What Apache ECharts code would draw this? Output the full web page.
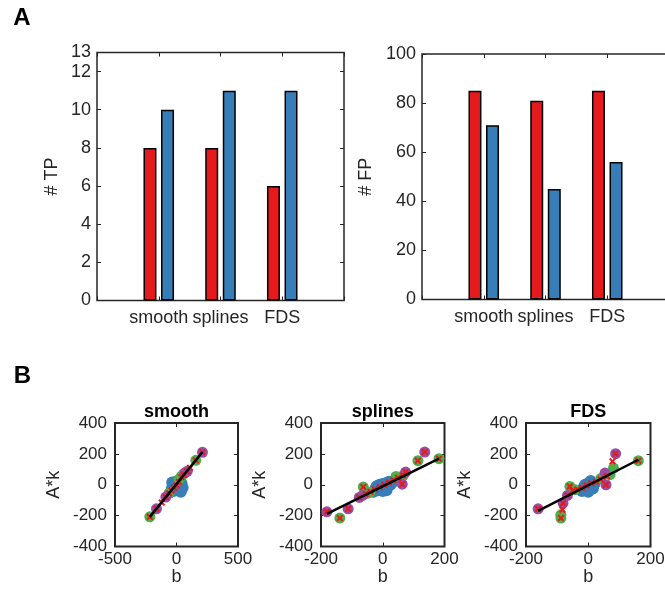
<!DOCTYPE html>
<html><head><meta charset="utf-8">
<script src="https://cdn.jsdelivr.net/npm/echarts@6/dist/echarts.min.js"></script>
<style>html,body{margin:0;padding:0;background:#fff}#c{width:665px;height:592px}</style>
</head><body><div id="c"></div>
<script>
// ---------- data ----------
const methods = ['smooth', 'splines', 'FDS'];
const tpRed = [8, 8, 6];
const tpBlue = [10, 11, 11];
const fpRed = [85, 81, 85];
const fpBlue = [71, 45, 56];

const panelTitles = ['smooth', 'splines', 'FDS'];

// smooth panel
const smoothBlue = [[-40,-30],[-30,-10],[-25,-40],[-15,5],[-10,-25],[0,0],[5,-35],[10,15],[15,-15],[20,25],[25,-5],[30,-30],[-35,15],[40,10],[-5,20],[35,-45],[50,-20]];
const smoothGreen = [[-217,-208],[40,55],[58,70],[157,158],[-60,-55],[20,35]];
const smoothPurple = [[-163,-156],[-87,-80],[87,87],[211,210],[70,78]];
const smoothRed = [[-217,-208],[-163,-156],[-120,-115],[-87,-80],[-60,-55],[-40,-38],[-20,-20],[0,-5],[20,18],[40,50],[60,65],[87,87],[110,110],[157,158],[211,210]];
const smoothFit = [[-217,-208],[211,212]];

// splines panel
const splinesBlue = [[-25,-30],[-20,-10],[-15,-35],[-10,0],[-5,-20],[0,5],[5,-25],[10,10],[15,-5],[20,20],[25,0],[-30,-45],[30,15],[0,-40],[12,-35]];
const splinesGreen = [[-139,-216],[-63,-15],[-41,-48],[67,61],[43,54],[114,156],[182,169],[-50,-55]];
const splinesPurple = [[-181,-175],[-112,-156],[-76,-82],[-65,-69],[63,4],[74,82],[136,212]];
const splinesRed = [[-181,-175],[-112,-156],[-139,-216],[-76,-82],[-63,-15],[-55,-60],[-40,-45],[-25,-30],[-10,-15],[5,0],[20,15],[35,30],[50,45],[63,4],[65,60],[74,82],[114,156],[136,212],[182,169]];
const splinesFit = [[-181,-188],[182,169]];

// FDS panel
const fdsBlue = [[-15,-20],[-10,0],[-5,-30],[0,10],[5,-10],[10,15],[15,-25],[20,5],[-20,-40],[0,-45],[8,25],[-12,-10]];
const fdsGreen = [[-88,-195],[-88,-216],[-59,-11],[-43,-32],[70,65],[81,108],[161,156],[40,40]];
const fdsPurple = [[-161,-156],[-81,-119],[-67,-69],[57,0],[54,76],[88,201]];
const fdsRed = [[-161,-156],[-88,-216],[-83,-162],[-81,-119],[-67,-69],[-59,-11],[-50,-40],[-35,-30],[-20,-20],[-5,-5],[10,10],[25,20],[40,35],[57,0],[60,55],[78,152],[88,201],[161,156]];
const fdsFit = [[-161,-169],[161,162]];

// ---------- styles ----------
const FONT = 'Liberation Sans, Arial, Helvetica, sans-serif';
const TXT = '#262626';
const RED = '#E41A1C', BLUE = '#377EB8', GREEN = '#4DAF4A', PURPLE = '#984EA3';
const CROSS = 'path://M0,2L2,0L5,3L8,0L10,2L7,5L10,8L8,10L5,7L2,10L0,8L3,5Z';

const grids = [
  {left: 97, top: 52.5, width: 247, height: 248, show: true, borderColor: TXT, borderWidth: 1.5, outerBoundsMode: 'none'},
  {left: 422, top: 54, width: 247, height: 245.5, show: true, borderColor: TXT, borderWidth: 1.5, outerBoundsMode: 'none'},
  {left: 115, top: 423, width: 123, height: 123.5, show: true, borderColor: TXT, borderWidth: 2, outerBoundsMode: 'none'},
  {left: 321, top: 423, width: 123.5, height: 123.5, show: true, borderColor: TXT, borderWidth: 2, outerBoundsMode: 'none'},
  {left: 526, top: 423, width: 124.5, height: 123.5, show: true, borderColor: TXT, borderWidth: 2, outerBoundsMode: 'none'}
];

function xAx(g, pos, min, max, interval, showLabel, opts) {
  return Object.assign({
    gridIndex: g, type: 'value', position: pos, min: min, max: max, interval: interval,
    axisLine: {show: false, onZero: false}, splitLine: {show: false},
    axisTick: {show: true, inside: true, length: 4, lineStyle: {color: TXT, width: 1}},
    axisLabel: {show: showLabel, fontSize: 17, color: TXT, fontFamily: FONT, margin: 4}
  }, opts || {});
}
function yAx(g, pos, min, max, interval, showLabel, opts) {
  return Object.assign({
    gridIndex: g, type: 'value', position: pos, min: min, max: max, interval: interval,
    axisLine: {show: false, onZero: false}, splitLine: {show: false},
    axisTick: {show: true, inside: true, length: 4, lineStyle: {color: TXT, width: 1}},
    axisLabel: {show: showLabel, fontSize: 17, color: TXT, fontFamily: FONT, margin: 8}
  }, opts || {});
}
const nameStyle = {fontSize: 18, color: TXT, fontFamily: FONT};
const catFmt = v => methods[v - 1] || '';

const xAxes = [
  xAx(0, 'bottom', 0, 4, 1, true, {axisLabel: {show: true, fontSize: 18, color: TXT, fontFamily: FONT, margin: 9, formatter: catFmt}}),
  xAx(0, 'top', 0, 4, 1, false),
  xAx(1, 'bottom', 0, 4, 1, true, {axisLabel: {show: true, fontSize: 18, color: TXT, fontFamily: FONT, margin: 9, formatter: catFmt}}),
  xAx(1, 'top', 0, 4, 1, false),
  xAx(2, 'bottom', -500, 500, 500, true, {name: 'b', nameLocation: 'middle', nameGap: 18, nameTextStyle: nameStyle}),
  xAx(2, 'top', -500, 500, 500, false),
  xAx(3, 'bottom', -200, 200, 200, true, {name: 'b', nameLocation: 'middle', nameGap: 18, nameTextStyle: nameStyle}),
  xAx(3, 'top', -200, 200, 200, false),
  xAx(4, 'bottom', -200, 200, 200, true, {name: 'b', nameLocation: 'middle', nameGap: 18, nameTextStyle: nameStyle}),
  xAx(4, 'top', -200, 200, 200, false)
];
const yAxes = [
  yAx(0, 'left', 0, 13, 2, true, {name: '# TP', nameLocation: 'middle', nameGap: 36, nameTextStyle: nameStyle,
    axisLabel: {show: true, fontSize: 18, color: TXT, fontFamily: FONT, margin: 6}}),
  yAx(0, 'right', 0, 13, 2, false),
  yAx(1, 'left', 0, 100, 20, true, {name: '# FP', nameLocation: 'middle', nameGap: 47, nameTextStyle: nameStyle,
    axisLabel: {show: true, fontSize: 18, color: TXT, fontFamily: FONT, margin: 6}}),
  yAx(1, 'right', 0, 100, 20, false),
  yAx(2, 'left', -400, 400, 200, true, {name: 'A*k', nameLocation: 'middle', nameGap: 52, nameTextStyle: nameStyle}),
  yAx(2, 'right', -400, 400, 200, false),
  yAx(3, 'left', -400, 400, 200, true, {name: 'A*k', nameLocation: 'middle', nameGap: 52, nameTextStyle: nameStyle}),
  yAx(3, 'right', -400, 400, 200, false),
  yAx(4, 'left', -400, 400, 200, true, {name: 'A*k', nameLocation: 'middle', nameGap: 52, nameTextStyle: nameStyle}),
  yAx(4, 'right', -400, 400, 200, false)
];

function bars(axisIdx, vals, color) {
  return {
    type: 'bar', xAxisIndex: axisIdx, yAxisIndex: axisIdx,
    data: methods.map((m, i) => [i + 1, vals[i]]),
    barWidth: 13, barGap: '35%',
    itemStyle: {color: color, borderColor: '#000', borderWidth: 1.5},
    z: 3
  };
}
function pts(axisIdx, data, color, symbol, size, z) {
  return {
    type: 'scatter', xAxisIndex: axisIdx, yAxisIndex: axisIdx, data: data,
    symbol: symbol, symbolSize: size, itemStyle: {color: color, opacity: 1}, z: z, silent: true
  };
}
function fit(axisIdx, data) {
  return {
    type: 'line', xAxisIndex: axisIdx, yAxisIndex: axisIdx, data: data, symbol: 'none',
    lineStyle: {color: '#000', width: 2.5}, z: 10, silent: true
  };
}

const panels = [
  [smoothBlue, smoothGreen, smoothPurple, smoothRed, smoothFit],
  [splinesBlue, splinesGreen, splinesPurple, splinesRed, splinesFit],
  [fdsBlue, fdsGreen, fdsPurple, fdsRed, fdsFit]
];

const series = [
  bars(0, tpRed, RED), bars(0, tpBlue, BLUE),
  bars(2, fpRed, RED), bars(2, fpBlue, BLUE)
];
panels.forEach((p, k) => {
  const ax = 4 + 2 * k;
  series.push(pts(ax, p[0], BLUE, 'circle', 12, 3));
  series.push(pts(ax, p[1], GREEN, 'circle', 11, 4));
  series.push(pts(ax, p[2], PURPLE, 'circle', 11, 5));
  series.push(pts(ax, p[3], RED, CROSS, 7, 6));
  series.push(fit(ax, p[4]));
});

const titleCenters = [176.5, 382.75, 588.25];
const graphic = [
  {type: 'text', x: 22, y: 18, style: {text: 'A', font: 'bold 24px ' + FONT, fill: '#000', textAlign: 'center', textVerticalAlign: 'middle'}},
  {type: 'text', x: 22.5, y: 376, style: {text: 'B', font: 'bold 24px ' + FONT, fill: '#000', textAlign: 'center', textVerticalAlign: 'middle'}}
].concat(panelTitles.map((t, i) => ({
  type: 'text', x: titleCenters[i], y: 412,
  style: {text: t, font: 'bold 18px ' + FONT, fill: '#000', textAlign: 'center', textVerticalAlign: 'middle'}
})));

const chart = echarts.init(document.getElementById('c'), null, {renderer: 'canvas'});
chart.setOption({
  animation: false,
  backgroundColor: '#fff',
  textStyle: {fontFamily: FONT},
  grid: grids,
  xAxis: xAxes,
  yAxis: yAxes,
  series: series,
  graphic: graphic
});
</script>
</body></html>
